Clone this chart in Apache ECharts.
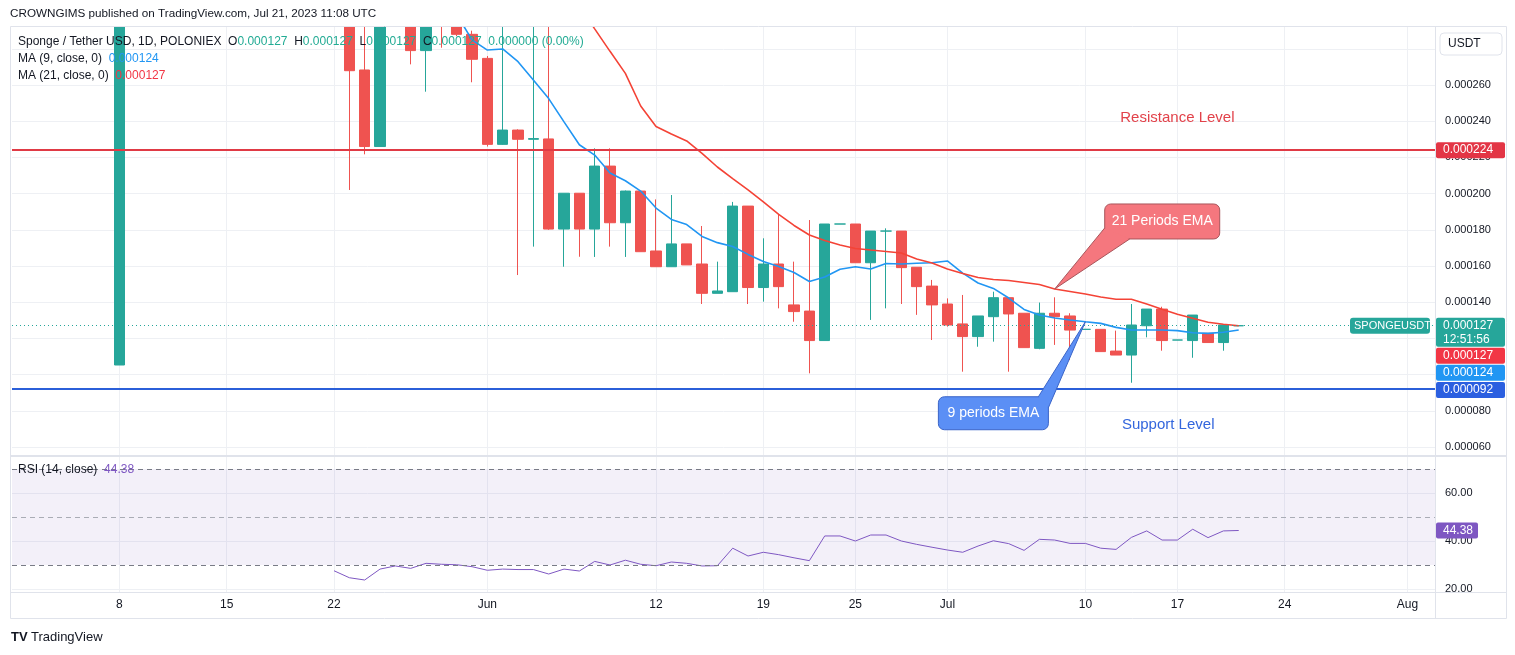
<!DOCTYPE html>
<html>
<head>
<meta charset="utf-8">
<title>SPONGEUSDT 1D</title>
<script src="https://cdn.jsdelivr.net/npm/echarts@6/dist/echarts.min.js"></script>
<style>
  html, body { margin: 0; padding: 0; background: #fff; }
  #chart { width: 1515px; height: 655px; }
</style>
</head>
<body>
<div id="chart"></div>
<script>
// prices are in micro-USDT (x 1e-6); bar index 0 = May 8, one bar per day
// (TradingView skipped one day between Jul 10 and Jul 17)
const open = [
  105.3, null, null, null, null, null, null, null, null, null,
  null, null, null, null, null, 310, 268.3, 226, null, 305,
  279, 305, 300, 288, 274.7, 227.2, 235.1, 230, 230.2, 180.4,
  200.2, 180.4, 215.2, 183.9, 201.4, 168.3, 159.6, 172.2, 161.1, 144.9,
  145.8, 193.1, 148.1, 161.1, 138.5, 135.1, 118.8, 183.2, 183.2, 161.8,
  179.3, 179.3, 159.3, 148.9, 139, 128, 121, 132, 142.5, 133.9,
  114.5, 133.9, 132.4, 125, 125, 113, 110.8, 127, 136.2, 119.1,
  118.8, 122.8, 117.7, 127
];
const close = [
  330, null, null, null, null, null, null, null, null, null,
  null, null, null, null, null, 267.9, 226, 310, null, 279,
  305, 296, 288, 274.2, 227.2, 235.1, 230, 230.4, 180.4, 200.2,
  180.4, 215.2, 183.9, 201.4, 167.9, 159.6, 172.2, 160.6, 144.9, 146.2,
  193.1, 148.1, 161.1, 148.6, 134.8, 118.8, 183.2, 183.2, 161.8, 179.3,
  179.3, 159.1, 148.6, 138.5, 127.4, 121, 132.4, 142.5, 133.5, 114.9,
  133.9, 132, 124.6, 125, 112.7, 110.8, 127.4, 136.2, 118.8, 119.1,
  132.9, 117.7, 127.4, 127
];
const low = [
  105.3, null, null, null, null, null, null, null, null, null,
  null, null, null, null, null, 202, 221.7, 226, null, 271.4,
  256.3, 280.6, 287, 261.5, 226, 227, 155, 170.7, 180, 159.6,
  165.1, 165, 170.7, 165, 167.9, 159.6, 159.6, 160.6, 139, 144.9,
  145.8, 139, 140.3, 136.6, 129.2, 100.7, 118.8, 183.2, 161.8, 130.2,
  136.6, 139, 133, 119.1, 126.5, 101.6, 115.4, 118.2, 101.6, 114.9,
  114, 116.4, 108, 125, 112.7, 110.8, 95.5, 120.6, 113.2, 119.1,
  109.3, 117.7, 113.2, 127
];
const high = [
  330, null, null, null, null, null, null, null, null, null,
  null, null, null, null, null, 315, 300, 315, null, 310,
  310, 310, 305, 290, 276, 300, 235.5, 300, 300, 200.2,
  200.2, 225, 225, 201.7, 201.4, 196.8, 199.2, 172.2, 182.1, 162.4,
  195.4, 193.1, 175.3, 188.2, 162.4, 185.4, 183.2, 183.2, 183.2, 179.3,
  180.8, 179.3, 159.3, 152.3, 142.1, 144, 132.4, 145.8, 142.5, 133.9,
  139.8, 142.7, 133.9, 125, 125, 124.3, 139, 136.2, 137.5, 119.1,
  132.9, 122.8, 127.4, 127
];

// moving averages
const ma9Start = 22;
const ma9 = [
  299, 284.9, 279.3, 279.9, 272.9, 262.8, 252.5, 239.6, 227, 221.3,
  211.4, 207.1, 201.4, 192, 185.7, 182.9, 176.3, 172.9, 170.8, 166.4,
  162.5, 159.7, 156.4, 151.4, 153.9, 158.2, 159.6, 158.3, 161.4, 161.1,
  161.5, 161.8, 162.8, 156.1, 150.6, 147.6, 142.3, 136, 132.9, 131.3,
  130.2, 129.2, 128.3, 126.1, 124.6, 124.6, 124.6, 124.3, 123.1, 122.8,
  123.4, 124.6
];
const ma21Start = 30;
const ma21 = [
  303.6, 291, 278.6, 266.4, 248.4, 237.1, 232.9, 229.1, 222.2, 214.7,
  208.3, 202, 195.4, 188.5, 182.4, 177.1, 174.1, 171.6, 169.7, 168.8,
  168, 167.2, 163.9, 161.7, 158.3, 155.9, 153.6, 152.5, 152, 150.9,
  149.8, 147.3, 145.9, 144.5, 142.9, 141.6, 141.6, 139, 136.1, 133.3,
  131.1, 128.9, 127.8, 127
];

const rsiStart = 14;
const rsi = [
  27.6, 24.7, 23.75, 28.3, 29.6, 28.6, 30.7, 30.3, 30.1, 29.3,
  27.8, 28.3, 28.1, 28.1, 26.25, 28.3, 27.5, 31.5, 30, 32,
  30.3, 29.7, 31.25, 30.7, 29.6, 29.7, 37, 33.75, 35.3, 34.3,
  33.0, 31.8, 42.1, 42.1, 40, 42.5, 42.5, 40, 38.6, 37.4,
  36.25, 35.3, 37.9, 40.1, 38.9, 36.1, 40.7, 40.4, 39, 39,
  37, 36.5, 41.5, 44.2, 40.4, 40.4, 44.9, 41.4, 44.2, 44.38
];

const tickIdx = [0, 7, 14, 24, 35, 42, 48, 54, 63, 69, 76, 84];
const tickLabels = ['8', '15', '22', 'Jun', '12', '19', '25', 'Jul', '10', '17', '24', 'Aug'];
const priceTicks = [60, 80, 100, 120, 140, 160, 180, 200, 220, 240, 260, 280];
const rsiTicks = [20, 40, 60];

const resistance = 224;
const support = 92;
const lastPrice = 127;
const lastMa9 = 124;
const lastMa21 = 127;
const lastRsi = 44.38;

const UP = '#26a69a';
const DOWN = '#ef5350';
const FONT = '"Liberation Sans", Arial, sans-serif';
const fmtPrice = v => (v * 1e-6).toFixed(6);

const candles = [];
for (let i = 0; i < open.length; i++) {
  if (open[i] == null) continue;
  candles.push([i, open[i], close[i], low[i], high[i]]);
}
const ma9Data = ma9.map((v, k) => [ma9Start + k, v]);
const ma21Data = ma21.map((v, k) => [ma21Start + k, v]);
const rsiData = rsi.map((v, k) => [rsiStart + k, v]);

const labelOf = {};
tickIdx.forEach((t, k) => { labelOf[t] = tickLabels[k]; });

const gridLine = { show: true, lineStyle: { color: '#eef0f4', width: 1 } };

const chart = echarts.init(document.getElementById('chart'));
chart.setOption({
  animation: false,
  textStyle: { fontFamily: FONT },
  grid: [
    { left: 12, right: 80, top: 27, height: 428 },
    { left: 12, right: 80, top: 457, height: 135 }
  ],
  xAxis: [
    {
      type: 'value', gridIndex: 0, min: -7, max: 85.8,
      axisLine: { show: false },
      axisTick: { show: false, customValues: tickIdx },
      axisLabel: { show: false, customValues: tickIdx },
      splitLine: gridLine
    },
    {
      type: 'value', gridIndex: 1, min: -7, max: 85.8,
      axisLine: { show: false },
      axisTick: { show: false, customValues: tickIdx },
      axisLabel: {
        customValues: tickIdx, margin: 7, color: '#131722', fontSize: 12,
        formatter: v => labelOf[v] || ''
      },
      splitLine: gridLine
    }
  ],
  yAxis: [
    {
      type: 'value', gridIndex: 0, position: 'right', min: 55.58, max: 292.04,
      axisLine: { show: false },
      axisTick: { show: false, customValues: priceTicks },
      axisLabel: {
        customValues: priceTicks, margin: 10, color: '#131722', fontSize: 11,
        formatter: fmtPrice
      },
      splitLine: gridLine
    },
    {
      type: 'value', gridIndex: 1, position: 'right', min: 18.75, max: 75,
      axisLine: { show: false },
      axisTick: { show: false, customValues: rsiTicks },
      axisLabel: {
        customValues: rsiTicks, margin: 10, color: '#131722', fontSize: 11,
        formatter: v => v.toFixed(2)
      },
      splitLine: gridLine
    }
  ],
  series: [
    {
      type: 'candlestick', xAxisIndex: 0, yAxisIndex: 0,
      data: candles, encode: { x: 0, y: [1, 2, 3, 4] },
      barWidth: 11, clip: true,
      itemStyle: {
        color: UP, color0: DOWN, borderColor: UP, borderColor0: DOWN,
        borderColorDoji: UP, borderWidth: 1
      },
      markLine: {
        silent: true, symbol: ['none', 'none'], label: { show: false },
        data: [
          { yAxis: resistance, lineStyle: { color: '#e03a45', width: 2, type: 'solid' } },
          { yAxis: support, lineStyle: { color: '#2b5fd9', width: 2, type: 'solid' } },
          { yAxis: lastPrice, lineStyle: { color: UP, width: 1, type: [1, 3] } }
        ]
      }
    },
    {
      type: 'line', xAxisIndex: 0, yAxisIndex: 0, data: ma9Data,
      symbol: 'none', clip: true, z: 3,
      lineStyle: { color: '#2196f3', width: 1.6 }
    },
    {
      type: 'line', xAxisIndex: 0, yAxisIndex: 0, data: ma21Data,
      symbol: 'none', clip: true, z: 3,
      lineStyle: { color: '#f44336', width: 1.6 }
    },
    {
      type: 'line', xAxisIndex: 1, yAxisIndex: 1, data: rsiData,
      symbol: 'none', lineStyle: { color: '#7e57c2', width: 1 },
      markArea: {
        silent: true,
        itemStyle: { color: 'rgba(126,87,194,0.09)' },
        data: [[{ yAxis: 30 }, { yAxis: 70 }]]
      },
      markLine: {
        silent: true, symbol: ['none', 'none'], label: { show: false },
        data: [
          { yAxis: 70, lineStyle: { color: '#787b86', width: 1, type: [5, 4] } },
          { yAxis: 50, lineStyle: { color: '#a9acb5', width: 1, type: [5, 4] } },
          { yAxis: 30, lineStyle: { color: '#787b86', width: 1, type: [5, 4] } }
        ]
      }
    }
  ]
});

// overlay: frame, legends, price tags and drawn annotations
const px = (i, v) => chart.convertToPixel({ gridIndex: 0 }, [i, v]);
const pxRsi = v => chart.convertToPixel({ gridIndex: 1 }, [0, v])[1];

function text(x, y, str, style) {
  return { type: 'text', x: x, y: y, z: 50, style: Object.assign({
    text: str, fontFamily: FONT, fontSize: 12, fill: '#131722',
    textVerticalAlign: 'middle', verticalAlign: 'middle'
  }, style || {}) };
}
function tag(yTop, h, w, bg, label) {
  return [
    { type: 'rect', z: 60, shape: { x: 1436, y: yTop, width: w, height: h, r: 2 }, style: { fill: bg } },
    Object.assign(text(1443, yTop + h / 2, label, { fill: '#fff', fontSize: 12 }), { z: 61 })
  ];
}
function callout(box, base1, base2, tip, fill, stroke, label) {
  return [
    { type: 'rect', z: 55, shape: { x: box[0], y: box[1], width: box[2], height: box[3], r: 6 },
      style: { fill: fill, stroke: stroke, lineWidth: 1 } },
    { type: 'polygon', z: 56, shape: { points: [base1, tip, base2] }, style: { fill: fill } },
    { type: 'polyline', z: 57, shape: { points: [base1, tip, base2] }, style: { stroke: stroke, lineWidth: 1, fill: null } },
    Object.assign(text(box[0] + box[2] / 2, box[1] + box[3] / 2, label,
      { fill: '#fff', fontSize: 14, align: 'center', textAlign: 'center' }), { z: 58 })
  ];
}

const yLast = px(0, lastPrice)[1];
const ySup = px(0, support)[1];
const yRes = px(0, resistance)[1];
const yRsi = pxRsi(lastRsi);

const tipR = px(61, ma21[61 - ma21Start]);
const tipB = px(63, ma9[63 - ma9Start]);
const resTxt = px(69, 242);
const supTxt = px(68.4, 72);

const g = [];
// candles running past the top of the pane are cut off there
g.push({ type: 'rect', z: 45, shape: { x: 0, y: 0, width: 1515, height: 26 }, style: { fill: '#fff' } });

// frame and pane separators
g.push({ type: 'rect', z: 46, shape: { x: 10.5, y: 26.5, width: 1496, height: 592 },
  style: { fill: null, stroke: '#e0e3eb', lineWidth: 1 } });
g.push({ type: 'line', z: 46, shape: { x1: 10, y1: 456, x2: 1507, y2: 456 }, style: { stroke: '#e0e3eb', lineWidth: 2 } });
g.push({ type: 'line', z: 46, shape: { x1: 10, y1: 592.5, x2: 1507, y2: 592.5 }, style: { stroke: '#e0e3eb', lineWidth: 1 } });
g.push({ type: 'line', z: 46, shape: { x1: 1435.5, y1: 27, x2: 1435.5, y2: 619 }, style: { stroke: '#e0e3eb', lineWidth: 1 } });

// header and footer
g.push(text(10, 14, 'CROWNGIMS published on TradingView.com, Jul 21, 2023 11:08 UTC', { fontSize: 11.7 }));
g.push(text(11, 637, 'TV', { fontSize: 13, fontWeight: 'bold' }));
g.push(text(31, 637, 'TradingView', { fontSize: 13 }));

// legends
g.push(text(18, 42, '{t|Sponge / Tether USD, 1D, POLONIEX}  {k|O}{v|0.000127}  {k|H}{v|0.000127}  {k|L}{v|0.000127}  {k|C}{v|0.000127}  {v|0.000000 (0.00%)}', {
  rich: {
    t: { fontFamily: FONT, fontSize: 12, fill: '#131722' },
    k: { fontFamily: FONT, fontSize: 12, fill: '#131722' },
    v: { fontFamily: FONT, fontSize: 12, fill: '#22ab94' }
  }
}));
g.push(text(18, 59, 'MA (9, close, 0)  {b|0.000124}', { rich: { b: { fontFamily: FONT, fontSize: 12, fill: '#2196f3' } } }));
g.push(text(18, 76, 'MA (21, close, 0)  {r|0.000127}', { rich: { r: { fontFamily: FONT, fontSize: 12, fill: '#f23645' } } }));
g.push(text(18, 470, 'RSI (14, close)  {p|44.38}', { rich: { p: { fontFamily: FONT, fontSize: 12, fill: '#7e57c2' } } }));

// currency box
g.push({ type: 'rect', z: 60, shape: { x: 1440, y: 33, width: 62, height: 22, r: 4 }, style: { fill: '#fff', stroke: '#e0e3eb' } });
g.push(Object.assign(text(1448, 44, 'USDT', { fontSize: 12 }), { z: 61 }));

// right axis tags
g.push({ type: 'rect', z: 60, shape: { x: 1350, y: yLast - 8, width: 80, height: 16, r: 3 }, style: { fill: UP } });
g.push(Object.assign(text(1354, yLast, 'SPONGEUSDT', { fill: '#fff', fontSize: 11 }), { z: 61 }));
g.push({ type: 'rect', z: 60, shape: { x: 1436, y: yLast - 8, width: 69, height: 29, r: 2 }, style: { fill: UP } });
g.push(Object.assign(text(1443, yLast, fmtPrice(lastPrice), { fill: '#fff' }), { z: 61 }));
g.push(Object.assign(text(1443, yLast + 14, '12:51:56', { fill: '#fff' }), { z: 61 }));
g.push(...tag(yLast + 22, 16, 69, '#f23645', fmtPrice(lastMa21)));
g.push(...tag(yLast + 39, 16, 69, '#2196f3', fmtPrice(lastMa9)));
g.push(...tag(ySup - 7, 16, 69, '#2b5fe0', fmtPrice(support)));
g.push(...tag(yRes - 8, 16, 69, '#e33545', fmtPrice(resistance)));
g.push(...tag(yRsi - 8, 16, 42, '#7e57c2', lastRsi.toFixed(2)));

// level captions
g.push(text(resTxt[0], resTxt[1], 'Resistance Level', { fill: '#e2424a', fontSize: 15, align: 'center', textAlign: 'center' }));
g.push(text(supTxt[0], supTxt[1], 'Support Level', { fill: '#3366dd', fontSize: 15, align: 'center', textAlign: 'center' }));

// callouts pointing at the averages
const bxR = [tipR[0] + 50, tipR[1] - 85, 115, 35];
g.push(...callout(bxR, [bxR[0], bxR[1] + 24], [bxR[0] + 25, bxR[1] + bxR[3]], tipR,
  '#f5777e', '#a8555b', '21 Periods EMA'));
const bxB = [tipB[0] - 147, tipB[1] + 75, 110, 33];
g.push(...callout(bxB, [bxB[0] + 100, bxB[1]], [bxB[0] + bxB[2], bxB[1] + 11], tipB,
  '#5b8ff5', '#3a64c8', '9 periods EMA'));

chart.setOption({ graphic: { elements: g } });
</script>
</body>
</html>
